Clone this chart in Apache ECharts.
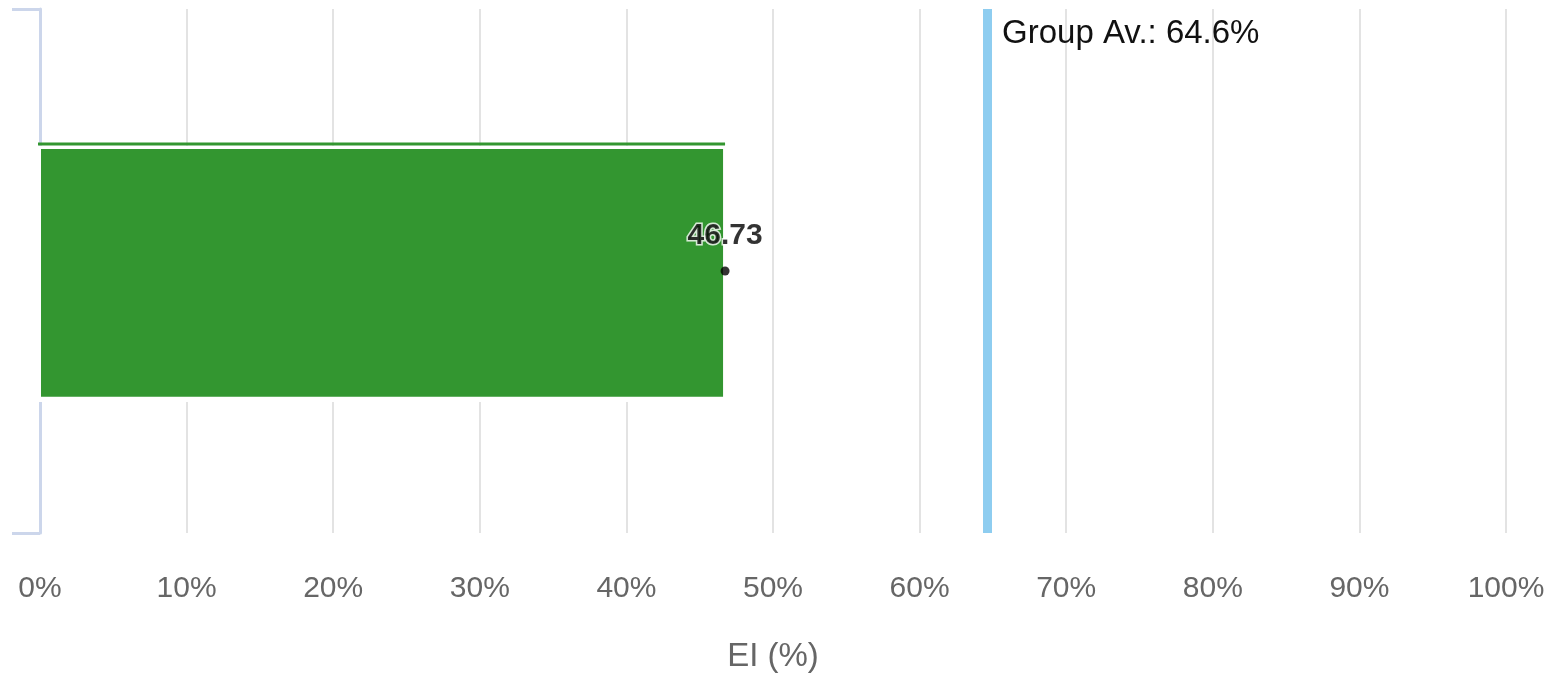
<!DOCTYPE html>
<html>
<head>
<meta charset="utf-8">
<script src="https://cdn.jsdelivr.net/npm/echarts@6/dist/echarts.min.js"></script>
<style>
html,body{margin:0;padding:0;background:#fff;}
#chart{width:1559px;height:679px;}
</style>
</head>
<body>
<div id="chart"></div>
<script>
const categories = ['EI'];
const values = [46.73];
const groupAverage = 64.6;
const groupLabel = 'Group Av.: 64.6%';
const xMin = 0, xMax = 100, xInterval = 10;
const axisName = 'EI (%)';

const sans = '"Liberation Sans", Arial, Helvetica, sans-serif';
const chart = echarts.init(document.getElementById('chart'), null, {renderer: 'canvas'});

const barData = values.map((v, i) => [v, i]);

chart.setOption({
  animation: false,
  grid: {left: 40, right: 53, top: 9, bottom: 146, containLabel: false},
  xAxis: {
    type: 'value', min: xMin, max: xMax, interval: xInterval,
    axisLine: {show: false}, axisTick: {show: false},
    splitLine: {show: true, lineStyle: {color: '#e3e3e3', width: 2}},
    axisLabel: {formatter: '{value}%', color: '#666', fontSize: 30, fontFamily: sans, margin: 41},
    name: axisName, nameLocation: 'middle', nameGap: 107,
    nameTextStyle: {color: '#666', fontSize: 33, fontFamily: sans}
  },
  yAxis: {
    type: 'category', data: categories,
    axisLine: {show: true, lineStyle: {color: '#ccd6eb', width: 3}},
    axisTick: {show: true, length: 28, lineStyle: {color: '#ccd6eb', width: 3}},
    axisLabel: {show: false},
    splitLine: {show: false}
  },
  series: [
    {
      type: 'custom',
      data: barData,
      encode: {x: 0, y: 1},
      z: 3,
      renderItem: function (params, api) {
        const v = api.value(0);
        const cat = api.value(1);
        const p0 = api.coord([0, cat]);
        const p1 = api.coord([v, cat]);
        const b = api.size([0, 1])[1];
        const c = p0[1];
        return {
          type: 'group',
          children: [
            {type: 'rect', shape: {x: p0[0] - 3, y: c - 0.239 * b, width: p1[0] - p0[0] + 4, height: 0.489 * b}, style: {fill: '#ffffff'}},
            {type: 'rect', shape: {x: p0[0] + 1, y: c - 0.233 * b, width: p1[0] - p0[0] - 3, height: 0.473 * b}, style: {fill: '#339630'}},
            {type: 'rect', shape: {x: p0[0] - 2, y: c - 0.245 * b, width: p1[0] - p0[0] + 2, height: 3}, style: {fill: '#339630'}}
          ]
        };
      },
      markArea: {
        silent: true,
        itemStyle: {color: 'rgba(0,0,0,0)'},
        label: {
          show: true, position: 'insideTopLeft', distance: 0,
          padding: [8, 0, 0, 15],
          color: '#111', fontSize: 33, fontFamily: sans
        },
        data: [[{xAxis: groupAverage, name: groupLabel}, {xAxis: groupAverage}]]
      },
      markLine: {
        silent: true, symbol: 'none',
        lineStyle: {color: '#8ecdf0', width: 9, type: 'solid'},
        label: {show: false},
        data: [{xAxis: groupAverage}]
      }
    },
    {
      type: 'scatter',
      data: barData,
      z: 5,
      symbol: 'circle', symbolSize: 9,
      itemStyle: {color: '#000'},
      label: {
        show: true, position: 'top', distance: 16,
        formatter: p => p.value[0].toFixed(2),
        color: '#000', fontWeight: 'bold', fontSize: 30, fontFamily: sans,
        textBorderColor: '#fff', textBorderWidth: 3
      }
    }
  ]
});
</script>
</body>
</html>
